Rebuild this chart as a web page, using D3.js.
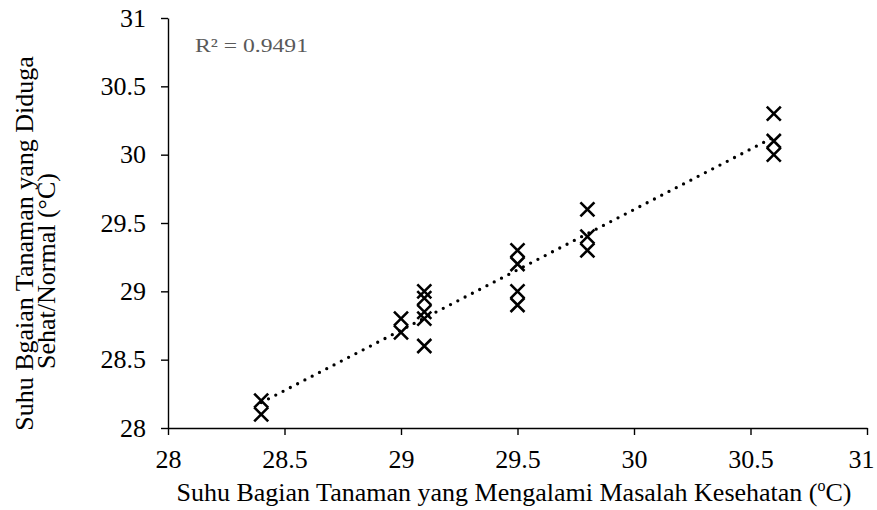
<!DOCTYPE html>
<html>
<head>
<meta charset="utf-8">
<script src="https://cdn.jsdelivr.net/npm/d3@7"></script>
<style>
  body { margin: 0; background: #fff; }
  svg text { font-family: "Liberation Serif", "Times New Roman", serif; }
</style>
</head>
<body>
<svg id="chart" width="877" height="510"></svg>
<script>
// measured temperatures (°C)
const xVals = [28.4, 28.4, 29, 29, 29.1, 29.1, 29.1, 29.1, 29.1,
               29.5, 29.5, 29.5, 29.5, 29.8, 29.8, 29.8, 30.6, 30.6, 30.6];
const yVals = [28.2, 28.1, 28.8, 28.7, 29, 28.95, 28.85, 28.8, 28.6,
               29.3, 29.2, 29.0, 28.9, 29.6, 29.4, 29.3, 30.3, 30.1, 30.0];
const xTicks = [28, 28.5, 29, 29.5, 30, 30.5, 31];
const yTicks = [28, 28.5, 29, 29.5, 30, 30.5, 31];
const r2Label = "R² = 0.9491";

const FONT = "'Liberation Serif', 'Times New Roman', serif";
const svg = d3.select("#chart");
const x = d3.scaleLinear().domain([28, 31]).range([168, 867]);
const y = d3.scaleLinear().domain([28, 31]).range([428, 18]);

const fmt = d => String(d);

const gx = svg.append("g")
    .attr("transform", "translate(0,428)")
    .call(d3.axisBottom(x).tickValues(xTicks).tickFormat(fmt).tickSize(7).tickSizeOuter(0));
gx.attr("font-family", FONT);
gx.select(".domain").attr("stroke", "#000").attr("stroke-width", 1.4);
gx.selectAll(".tick line").attr("stroke", "#000").attr("stroke-width", 1.4);
gx.selectAll("text").attr("font-size", 26).attr("fill", "#000")
    .attr("y", 40).attr("dy", 0)
    .attr("dx", d => d === 31 ? -6 : 0);   // last label pulled in to stay on the page

const gy = svg.append("g")
    .attr("transform", "translate(168,0)")
    .call(d3.axisLeft(y).tickValues(yTicks).tickFormat(fmt).tickSize(7).tickSizeOuter(0));
gy.attr("font-family", FONT);
gy.select(".domain").attr("stroke", "#000").attr("stroke-width", 1.4);
gy.selectAll(".tick line").attr("stroke", "#000").attr("stroke-width", 1.4);
gy.selectAll("text").attr("font-size", 26).attr("fill", "#000").attr("x", -22);

// least squares trendline
const mx = d3.mean(xVals), my = d3.mean(yVals);
let sxy = 0, sxx = 0;
xVals.forEach((v, i) => { sxy += (v - mx) * (yVals[i] - my); sxx += (v - mx) ** 2; });
const slope = sxy / sxx, icpt = my - slope * mx;
const x0 = d3.min(xVals), x1 = d3.max(xVals);
svg.append("line")
    .attr("x1", x(x0)).attr("y1", y(slope * x0 + icpt))
    .attr("x2", x(x1)).attr("y2", y(slope * x1 + icpt))
    .attr("stroke", "#000").attr("stroke-width", 3.3)
    .attr("stroke-linecap", "round").attr("stroke-dasharray", "0 8.2");

// markers
const s = 7;
const pts = svg.append("g");
xVals.forEach((v, i) => {
  const cx = x(v), cy = y(yVals[i]);
  pts.append("path")
      .attr("d", `M${cx - s},${cy - s}L${cx + s},${cy + s}M${cx - s},${cy + s}L${cx + s},${cy - s}`)
      .attr("stroke", "#000").attr("stroke-width", 2.6).attr("fill", "none");
});

svg.append("text").attr("x", 195).attr("y", 52)
    .attr("font-family", FONT).attr("font-size", 19).attr("fill", "#595959")
    .attr("textLength", 113).attr("lengthAdjust", "spacingAndGlyphs")
    .text(r2Label);

const xl = svg.append("text").attr("x", 514).attr("y", 501)
    .attr("font-family", FONT).attr("text-anchor", "middle").attr("font-size", 26).attr("fill", "#000");
xl.append("tspan").text("Suhu Bagian Tanaman yang Mengalami Masalah Kesehatan (");
xl.append("tspan").attr("font-size", 16).attr("dy", -10).text("o");
xl.append("tspan").attr("dy", 10).text("C)");

svg.append("text").attr("transform", "translate(33,243.5) rotate(-90)")
    .attr("font-family", FONT).attr("text-anchor", "middle").attr("font-size", 26).attr("fill", "#000")
    .text("Suhu Bgaian Tanaman yang Diduga");
svg.append("text").attr("transform", "translate(55,271) rotate(-90)")
    .attr("font-family", FONT).attr("text-anchor", "middle").attr("font-size", 26).attr("fill", "#000")
    .text("Sehat/Normal (°C)");
</script>
</body>
</html>
